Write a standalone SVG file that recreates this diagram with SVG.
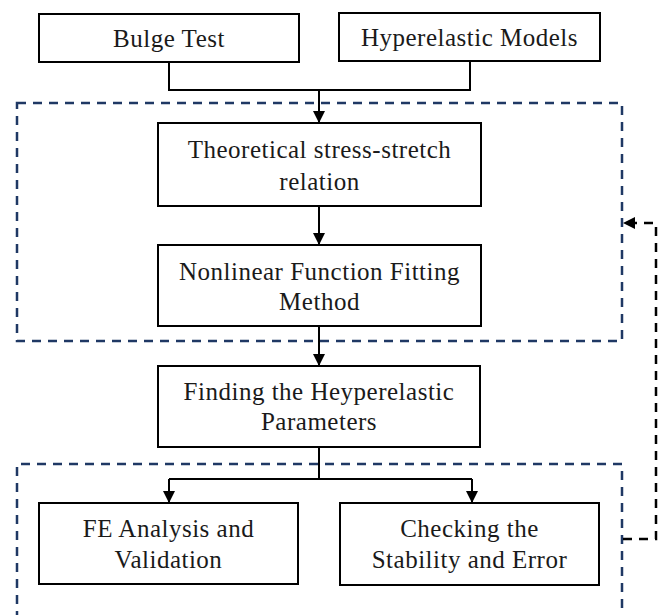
<svg xmlns="http://www.w3.org/2000/svg" width="662" height="615" viewBox="0 0 662 615">
  <style>
    .box { fill: #ffffff; stroke: #000000; stroke-width: 2; }
    .label { font-family: "Liberation Serif", "Times New Roman", serif; font-size: 25px; letter-spacing: 0.5px; fill: #1a1a1a; text-anchor: middle; }
    .wire { fill: none; stroke: #000000; stroke-width: 2; }
    .group { fill: none; stroke: #1f3864; stroke-width: 2.5; stroke-dasharray: 9 7; }
    .loop { fill: none; stroke: #000000; stroke-width: 2.5; stroke-dasharray: 9 7; }
  </style>
  <defs>
    <marker id="arrow" viewBox="0 0 12 12" refX="11" refY="6" markerWidth="12" markerHeight="12" markerUnits="userSpaceOnUse" orient="auto">
      <path d="M0,0 L12,6 L0,12 Z" fill="#000000"/>
    </marker>
  </defs>
  <rect width="662" height="615" fill="#ffffff"/>

  <!-- dashed grouping frames -->
  <g id="frames">
    <rect class="group" x="17" y="103" width="605" height="238"/>
    <path class="group" d="M17,620 V464 H622 V620"/>
  </g>

  <!-- connectors -->
  <g id="connectors">
    <path class="wire" d="M169,62 V90 H470 V61"/>
    <path class="wire" d="M319,90 V122" marker-end="url(#arrow)"/>
    <path class="wire" d="M319,206 V244" marker-end="url(#arrow)"/>
    <path class="wire" d="M319,326 V365" marker-end="url(#arrow)"/>
    <path class="wire" d="M319,447 V479"/>
    <path class="wire" d="M169,479 H472"/>
    <path class="wire" d="M169,479 V502" marker-end="url(#arrow)"/>
    <path class="wire" d="M472,479 V502" marker-end="url(#arrow)"/>
    <path class="loop" d="M623,539 H656 V223 H624" marker-end="url(#arrow)"/>
  </g>

  <g id="bulge-test">
    <rect class="box" x="39" y="14" width="260" height="48"/>
    <text class="label" x="169" y="47">Bulge Test</text>
  </g>
  <g id="hyperelastic-models">
    <rect class="box" x="339" y="13" width="261" height="48"/>
    <text class="label" x="469.5" y="46">Hyperelastic Models</text>
  </g>
  <g id="theoretical-relation">
    <rect class="box" x="158" y="123" width="323" height="83"/>
    <text class="label" x="319.5" y="158">Theoretical stress-stretch</text>
    <text class="label" x="319.5" y="190">relation</text>
  </g>
  <g id="fitting-method">
    <rect class="box" x="158" y="245" width="323" height="81"/>
    <text class="label" x="319.5" y="280">Nonlinear Function Fitting</text>
    <text class="label" x="319.5" y="310">Method</text>
  </g>
  <g id="finding-parameters">
    <rect class="box" x="158" y="366" width="322" height="81"/>
    <text class="label" x="319" y="400">Finding the Heyperelastic</text>
    <text class="label" x="319" y="430">Parameters</text>
  </g>
  <g id="fe-analysis">
    <rect class="box" x="39" y="503" width="259" height="81"/>
    <text class="label" x="168.5" y="537">FE Analysis and</text>
    <text class="label" x="168.5" y="568">Validation</text>
  </g>
  <g id="stability-check">
    <rect class="box" x="340" y="503" width="259" height="82"/>
    <text class="label" x="469.5" y="537">Checking the</text>
    <text class="label" x="469.5" y="568">Stability and Error</text>
  </g>
</svg>
